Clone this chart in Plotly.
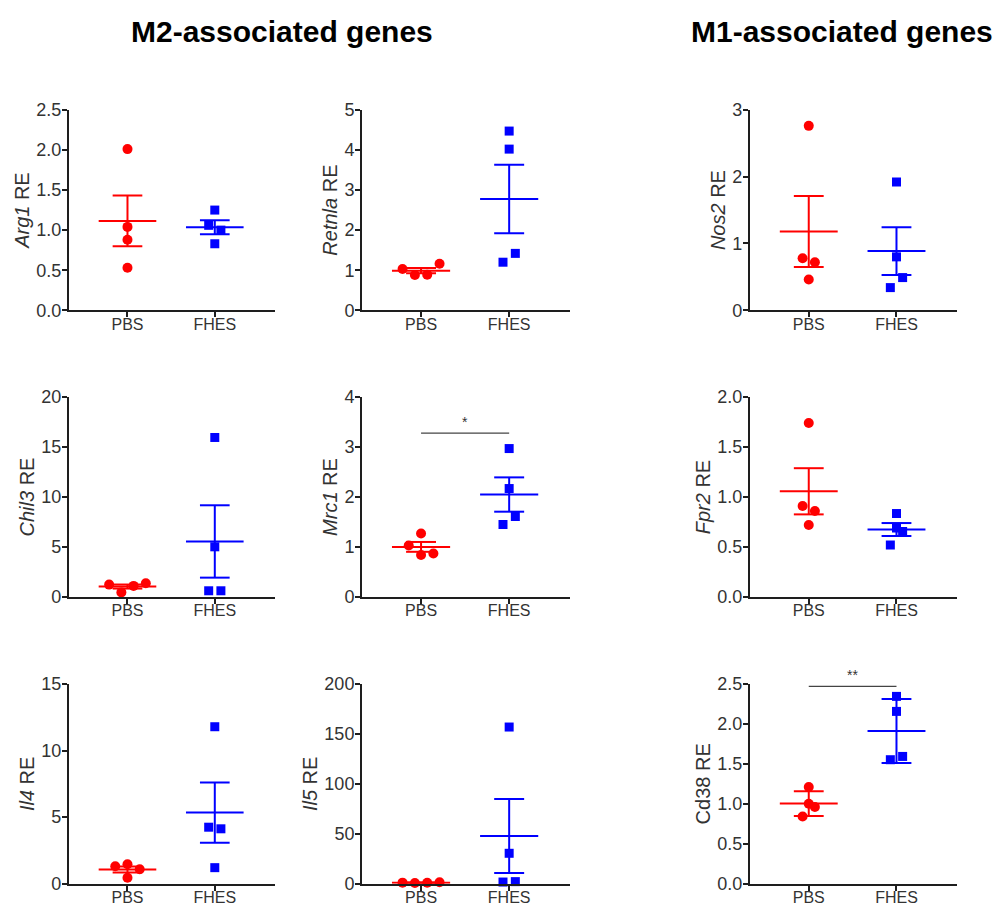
import numpy as np
import plotly.graph_objects as go

# ---- data: relative expression (RE) per mouse, PBS vs FHES ----
groups = ["PBS", "FHES"]

genes = ["Arg1", "Retnla", "Nos2", "Chil3", "Mrc1", "Fpr2", "Il4", "Il5", "Cd38"]

arg1_pbs = [2.01, 1.04, 0.88, 0.53]
arg1_fhes = [1.25, 1.06, 1.00, 0.83]

retnla_pbs = [1.03, 0.88, 0.89, 1.16]
retnla_fhes = [4.47, 4.02, 1.20, 1.42]

nos2_pbs = [2.76, 0.78, 0.72, 0.46]
nos2_fhes = [1.92, 0.80, 0.49, 0.34]

chil3_pbs = [1.24, 0.46, 1.11, 1.37]
chil3_fhes = [15.96, 5.02, 0.62, 0.62]

mrc1_pbs = [1.27, 1.03, 0.84, 0.87]
mrc1_fhes = [2.97, 2.17, 1.61, 1.45]

fpr2_pbs = [1.74, 0.91, 0.86, 0.72]
fpr2_fhes = [0.835, 0.69, 0.655, 0.52]

il4_pbs = [1.30, 1.45, 1.08, 0.44]
il4_fhes = [11.79, 4.24, 4.12, 1.20]

il5_pbs = [1.0, 0.7, 0.9, 1.3]
il5_fhes = [156.9, 30.4, 1.6, 2.0]

cd38_pbs = [1.21, 1.00, 0.96, 0.84]
cd38_fhes = [2.345, 2.157, 1.552, 1.593]

# y-axis ticks per panel
y_ticks = {
    "Arg1": [0.0, 0.5, 1.0, 1.5, 2.0, 2.5],
    "Retnla": [0, 1, 2, 3, 4, 5],
    "Nos2": [0, 1, 2, 3],
    "Chil3": [0, 5, 10, 15, 20],
    "Mrc1": [0, 1, 2, 3, 4],
    "Fpr2": [0.0, 0.5, 1.0, 1.5, 2.0],
    "Il4": [0, 5, 10, 15],
    "Il5": [0, 50, 100, 150, 200],
    "Cd38": [0.0, 0.5, 1.0, 1.5, 2.0, 2.5],
}
y_titles = {
    "Arg1": "<i>Arg1</i> RE",
    "Retnla": "<i>Retnla</i> RE",
    "Nos2": "<i>Nos2</i> RE",
    "Chil3": "<i>Chil3</i> RE",
    "Mrc1": "<i>Mrc1</i> RE",
    "Fpr2": "<i>Fpr2</i> RE",
    "Il4": "<i>Il4</i> RE",
    "Il5": "<i>Il5</i> RE",
    "Cd38": "Cd38 RE",
}
# error bar type: standard error of the mean, except Cd38 (standard deviation)
err_kind = {g: "sem" for g in genes}
err_kind["Cd38"] = "sd"

# significance brackets: gene -> (bar height, label)
signif = {"Mrc1": (3.28, "*"), "Cd38": (2.47, "**")}

values = {
    "Arg1": (arg1_pbs, arg1_fhes),
    "Retnla": (retnla_pbs, retnla_fhes),
    "Nos2": (nos2_pbs, nos2_fhes),
    "Chil3": (chil3_pbs, chil3_fhes),
    "Mrc1": (mrc1_pbs, mrc1_fhes),
    "Fpr2": (fpr2_pbs, fpr2_fhes),
    "Il4": (il4_pbs, il4_fhes),
    "Il5": (il5_pbs, il5_fhes),
    "Cd38": (cd38_pbs, cd38_fhes),
}

# horizontal scatter of overlapping points (in units of STEP)
STEP = 0.07
spread = {
    "Arg1": ([0, 0, 0, 0], [0, -1, 1, 0]),
    "Retnla": ([-3, -1, 1, 3], [0, 0, -1, 1]),
    "Nos2": ([0, -1, 1, 0], [0, 0, 1, -1]),
    "Chil3": ([-3, -1, 1, 3], [0, 0, -1, 1]),
    "Mrc1": ([0, -2, 0, 2], [0, 0, 1, -1]),
    "Fpr2": ([0, -1, 1, 0], [0, 0, 1, -1]),
    "Il4": ([-2, 0, 2, 0], [0, -1, 1, 0]),
    "Il5": ([-3, -1, 1, 3], [0, 0, -1, 1]),
    "Cd38": ([0, 0, 1, -1], [0, 0, -1, 1]),
}

# ---- layout geometry ----
W, H = 994, 920
col_dom = [[0.0694, 0.2767], [0.3642, 0.5734], [0.7545, 0.9628]]
row_dom = [[0.6663, 0.8891], [0.3478, 0.5699], [0.0293, 0.2511]]
panel_pos = {
    "Arg1": (0, 0), "Retnla": (0, 1), "Nos2": (0, 2),
    "Chil3": (1, 0), "Mrc1": (1, 1), "Fpr2": (1, 2),
    "Il4": (2, 0), "Il5": (2, 1), "Cd38": (2, 2),
}
colors = ["#FF0000", "#0000FF"]
symbols = ["circle", "square"]
FONT = "Arial, Liberation Sans, sans-serif"
AX = "#1e1e1e"
TXT = "#333333"

fig = go.Figure()
layout_axes = {}

for i, gene in enumerate(genes):
    n = i + 1
    xa = "x" if n == 1 else f"x{n}"
    ya = "y" if n == 1 else f"y{n}"
    r, c = panel_pos[gene]

    for gi, grp in enumerate(groups):
        vals = np.array(values[gene][gi], dtype=float)
        mean = vals.mean()
        sd = vals.std(ddof=1)
        err = sd / np.sqrt(len(vals)) if err_kind[gene] == "sem" else sd
        xc = gi
        lx, ly = [], []
        # mean line
        lx += [xc - 0.33, xc + 0.33, None]
        ly += [mean, mean, None]
        # whisker
        lx += [xc, xc, None]
        ly += [mean - err, mean + err, None]
        # caps
        for yy in (mean - err, mean + err):
            lx += [xc - 0.17, xc + 0.17, None]
            ly += [yy, yy, None]
        fig.add_trace(go.Scatter(
            x=lx, y=ly, mode="lines", xaxis=xa, yaxis=ya,
            line=dict(color=colors[gi], width=2),
            hoverinfo="skip", showlegend=False, cliponaxis=False,
        ))
        xs = [xc + STEP * o for o in spread[gene][gi]]
        fig.add_trace(go.Scatter(
            x=xs, y=vals, mode="markers", xaxis=xa, yaxis=ya,
            marker=dict(color=colors[gi], symbol=symbols[gi],
                        size=10 if gi == 0 else 9, line=dict(width=0)),
            name=grp, showlegend=False, cliponaxis=False,
        ))

    ticks = y_ticks[gene]
    decimals = any(float(t) != int(t) for t in ticks)
    ticktext = [f"{t:.1f}" if decimals else f"{int(t)}" for t in ticks]

    layout_axes["xaxis" if n == 1 else f"xaxis{n}"] = dict(
        domain=col_dom[c], anchor=ya, range=[-0.67, 1.69],
        tickvals=[0, 1], ticktext=groups,
        showline=True, linecolor=AX, linewidth=2,
        ticks="outside", ticklen=5, tickwidth=2, tickcolor=AX,
        ticklabelstandoff=-7,
        showgrid=False, zeroline=False,
        tickfont=dict(family=FONT, size=16, color=TXT),
    )
    layout_axes["yaxis" if n == 1 else f"yaxis{n}"] = dict(
        domain=row_dom[r], anchor=xa, range=[0, ticks[-1]],
        tickvals=ticks, ticktext=ticktext,
        showline=True, linecolor=AX, linewidth=2,
        ticks="outside", ticklen=5, tickwidth=2, tickcolor=AX,
        ticklabelstandoff=-3,
        showgrid=False, zeroline=False,
        tickfont=dict(family=FONT, size=18, color=TXT),
        title=dict(text=y_titles[gene], font=dict(family=FONT, size=20, color=TXT),
                   standoff=1),
    )

    if gene in signif:
        h, lab = signif[gene]
        fig.add_trace(go.Scatter(
            x=[0, 1], y=[h, h], mode="lines", xaxis=xa, yaxis=ya,
            line=dict(color="#444444", width=1.2),
            hoverinfo="skip", showlegend=False, cliponaxis=False,
        ))
        fig.add_annotation(
            x=0.5, y=h, xref=xa, yref=ya, text=lab, showarrow=False,
            yanchor="bottom", yshift=1,
            font=dict(family=FONT, size=14, color="#333333"),
        )

fig.add_annotation(x=282 / W, y=1 - 22 / H, xref="paper", yref="paper",
                   text="<b>M2-associated genes</b>", showarrow=False,
                   xanchor="center", yanchor="middle",
                   font=dict(family=FONT, size=30, color="#000000"))
fig.add_annotation(x=842 / W, y=1 - 22 / H, xref="paper", yref="paper",
                   text="<b>M1-associated genes</b>", showarrow=False,
                   xanchor="center", yanchor="middle",
                   font=dict(family=FONT, size=30, color="#000000"))

fig.update_layout(
    width=W, height=H,
    margin=dict(l=0, r=0, t=0, b=0),
    paper_bgcolor="white", plot_bgcolor="white",
    showlegend=False,
    **layout_axes,
)

fig.write_html("out.html")
